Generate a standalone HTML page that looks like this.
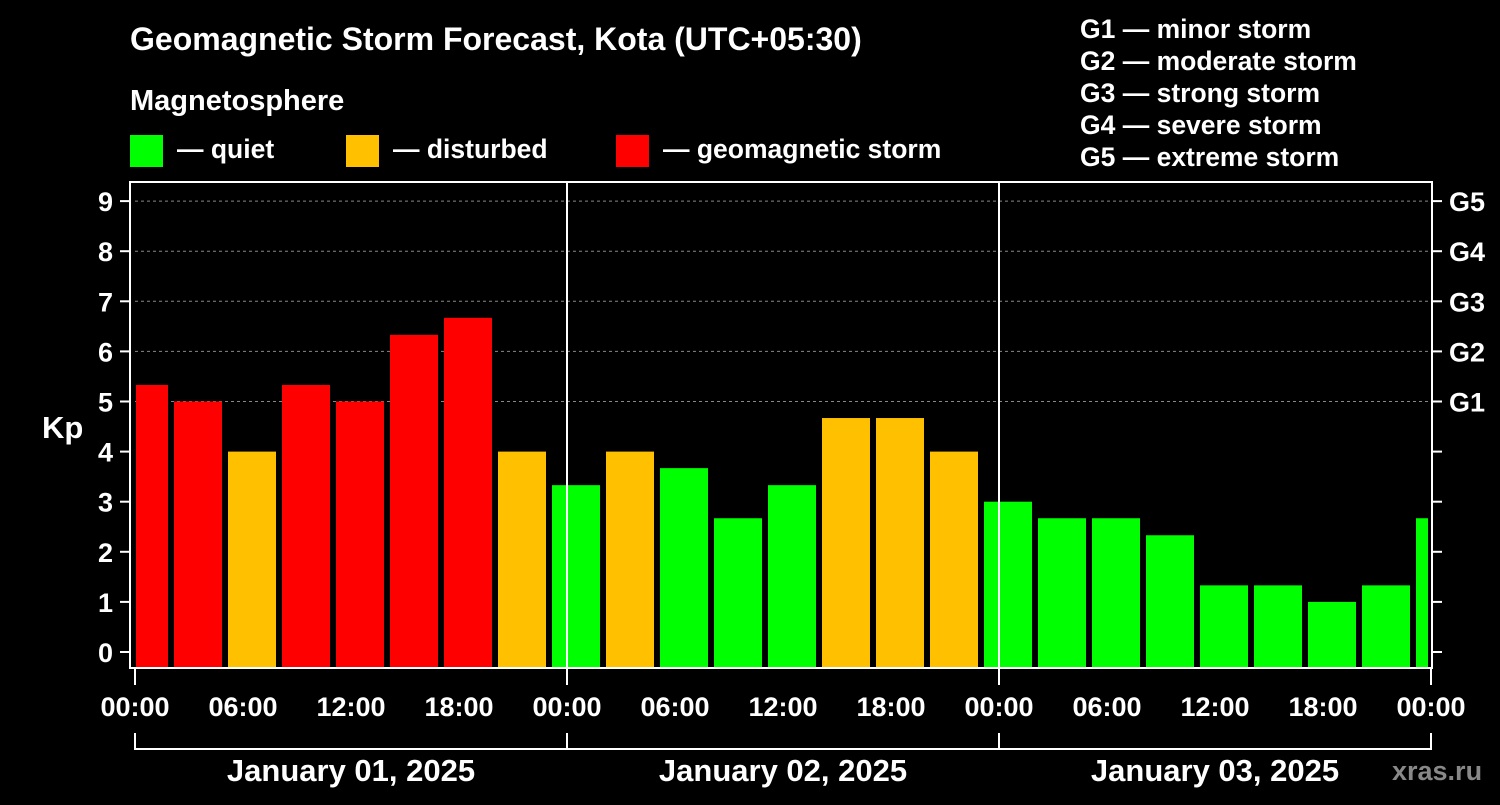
<!DOCTYPE html>
<html><head><meta charset="utf-8"><style>
body{margin:0;background:#000;width:1500px;height:800px;overflow:hidden}
svg text{font-family:"Liberation Sans",Arial,sans-serif;font-weight:bold;fill:#fff}
</style></head><body>
<svg id="c" width="1500" height="800" xmlns="http://www.w3.org/2000/svg">
<text x="130" y="50" font-size="32">Geomagnetic Storm Forecast, Kota (UTC+05:30)</text>
<text x="130" y="110" font-size="29">Magnetosphere</text>
<g><rect x="130" y="135" width="33" height="32" fill="#00ff00"/><text x="177" y="158" font-size="26.5">— quiet</text></g>
<g><rect x="346" y="135" width="33" height="32" fill="#ffc000"/><text x="393" y="158" font-size="26.5">— disturbed</text></g>
<g><rect x="616" y="135" width="33" height="32" fill="#ff0000"/><text x="663" y="158" font-size="26.5">— geomagnetic storm</text></g>
<g font-size="26.5">
<text x="1080" y="38">G1 — minor storm</text><text x="1080" y="70">G2 — moderate storm</text><text x="1080" y="102">G3 — strong storm</text><text x="1080" y="134">G4 — severe storm</text><text x="1080" y="166">G5 — extreme storm</text>
</g>
<text x="42" y="438" font-size="31">Kp</text>
<g id="marks"></g>
<text x="1392" y="780" font-size="27" style="fill:#888">xras.ru</text>
</svg>
<script>
const kpValues=[5.33,5,4,5.33,5,6.33,6.67,4,3.33,4,3.67,2.67,3.33,4.67,4.67,4,3,2.67,2.67,2.33,1.33,1.33,1,1.33,2.67];
const yTicks=[0,1,2,3,4,5,6,7,8,9];
const gLabels=["G1","G2","G3","G4","G5"];
const xTickLabels=["00:00","06:00","12:00","18:00","00:00","06:00","12:00","18:00","00:00","06:00","12:00","18:00","00:00"];
const dayLabels=["January 01, 2025","January 02, 2025","January 03, 2025"];
const NS="http://www.w3.org/2000/svg";
const L=135,R=1431,T=182,B=668;
const xH=h=>L+h*18;
const yV=v=>652-v*50.1;
const g=document.getElementById('marks');
function mk(t,a,txt){const e=document.createElementNS(NS,t);for(const k in a)e.setAttribute(k,a[k]);if(txt!==undefined)e.textContent=txt;g.appendChild(e);return e;}
yTicks.forEach(v=>{
 if(v>=5){const l=mk('line',{x1:L,x2:R,y1:yV(v),y2:yV(v),stroke:'#888','stroke-dasharray':'3,3','stroke-width':1});
 
 }
 const t1=mk('line',{x1:120,x2:130,y1:yV(v),y2:yV(v),stroke:'#fff','stroke-width':2});
 
 
 const t2=mk('line',{x1:1432,x2:1442,y1:yV(v),y2:yV(v),stroke:'#fff','stroke-width':2});
 
 
 const tl=mk('text',{x:113,y:yV(v)+10,'font-size':27,'text-anchor':'end'},String(v));
 
 
});
gLabels.forEach((s,i)=>{
 const t=mk('text',{x:1449,y:yV(5+i)+10,'font-size':27},s);
 
 
});
kpValues.forEach((v,k)=>{
 let x0=xH(-1+3*k)+3,x1=xH(2+3*k)-3;
 x0=Math.max(x0,L+1);x1=Math.min(x1,R-3);
 const c=v>=5?'#ff0000':(v>=4?'#ffc000':'#00ff00');
 const r=mk('rect',{x:x0,y:yV(v),width:x1-x0,height:B-yV(v),fill:c});
 
 
});
[1,2].forEach(d=>{const l=mk('line',{x1:xH(24*d),x2:xH(24*d),y1:T,y2:B,stroke:'#fff','stroke-width':2});
 
 });
const fr=mk('rect',{x:130,y:T,width:1302,height:B-T,fill:'none',stroke:'#fff','stroke-width':2});


xTickLabels.forEach((s,i)=>{
 const x=xH(6*i);
 if(i%4==0){const tk=mk('line',{x1:x,x2:x,y1:B,y2:685,stroke:'#fff','stroke-width':2});
 
 }
 const t=mk('text',{x:x,y:716,'font-size':27,'text-anchor':'middle'},s);
 
 
});
const br=mk('line',{x1:L,x2:R,y1:749,y2:749,stroke:'#fff','stroke-width':2});


[0,1,2,3].forEach(d=>{const l=mk('line',{x1:xH(24*d),x2:xH(24*d),y1:733,y2:750,stroke:'#fff','stroke-width':2});
 
 });
dayLabels.forEach((s,i)=>{
 const t=mk('text',{x:xH(24*i+12),y:781,'font-size':31,'text-anchor':'middle'},s);
 
 
});
</script>
</body></html>
